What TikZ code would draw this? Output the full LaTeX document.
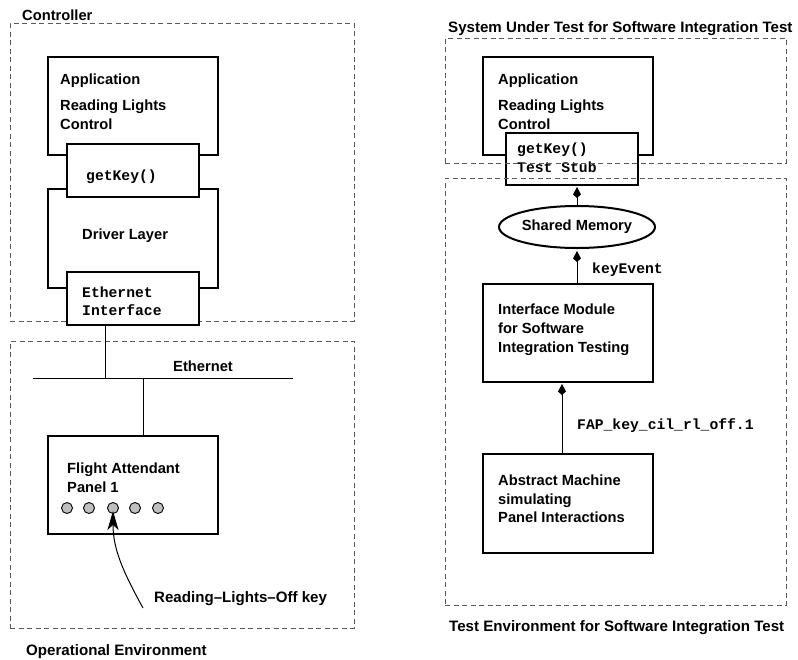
\documentclass[tikz,border=0pt]{standalone}
\usepackage{fontspec}
\setmainfont{Liberation Sans}
\setmonofont{Liberation Mono}
\usetikzlibrary{arrows.meta,shapes.geometric,calc}
\begin{document}
\begin{tikzpicture}[x=1pt,y=-1pt,
  box/.style={draw,line width=2.4pt,inner sep=0pt,outer sep=0pt},
  ibox/.style={draw,line width=1.1pt,fill=white,inner sep=0pt,outer sep=0pt},
  env/.style={draw=black!65,dash pattern=on 5pt off 3.5pt,line width=1pt,inner sep=0pt,outer sep=0pt},
  lbl/.style={anchor=base west,inner sep=0pt,font=\fontsize{14.7}{17}\selectfont\bfseries},
  ttl/.style={anchor=base west,inner sep=0pt,font=\fontsize{15.1}{17}\selectfont\bfseries},
  code/.style={anchor=base west,inner sep=0pt,font=\fontsize{14.7}{17}\selectfont\ttfamily\bfseries},
  key/.style={circle,draw,line width=0.9pt,fill=black!25,minimum size=11pt,inner sep=0pt},
  link/.style={line width=1pt},
  sarrow/.style={line width=1pt,-{Kite[length=11pt,width=8pt,inset=3.5pt]},shorten >=2pt}]
\useasboundingbox (0,0) rectangle (798,659);

% ---------- Left: Controller ----------
\node[box,minimum width=170pt,minimum height=98pt] (appL) at (133,106) {};
\node[box,minimum width=170pt,minimum height=99pt] (drv) at (133,238.5) {};
\node[env,minimum width=344pt,minimum height=298pt] (ctrl) at (182,172) {};
\node[ibox,minimum width=132pt,minimum height=53pt] (gkL) at (133,170.5) {};
\node[ibox,minimum width=132pt,minimum height=53pt] (ethif) at (133,298.5) {};

\node[lbl] (tctrl) at (22,20) {Controller};
\node[lbl] (tappL1) at (60,84) {Application};
\node[lbl] (tappL2) at (60,110) {Reading Lights};
\node[lbl] (tappL3) at (60,129) {Control};
\node[code] (tgkL) at (86,180) {getKey()};
\node[lbl] (tdrv) at (82,239) {Driver Layer};
\node[code] (teth1) at (82,297) {Ethernet};
\node[code] (teth2) at (82,315) {Interface};

% ---------- Left: Operational Environment ----------
\node[env,minimum width=344pt,minimum height=287pt] (openv) at (182,484.5) {};
\coordinate (busL) at (33,378);
\coordinate (busR) at (293,378);
\coordinate (busA) at (105,378);
\coordinate (busB) at (143,378);
\draw[link] (busL) -- (busR);
\draw[link] (ethif.south -| busA) -- (busA);
\node[box,minimum width=170pt,minimum height=98pt] (fap) at (133,485) {};
\draw[link] (busB) -- (fap.north -| busB);
\node[lbl] (tbus) at (173,371) {Ethernet};
\node[lbl] (tfap1) at (67,473) {Flight Attendant};
\node[lbl] (tfap2) at (67,492) {Panel 1};
\node[key] (k1) at (67,508) {};
\node[key] (k2) at (89,508) {};
\node[key] (k3) at (113,508) {};
\node[key] (k4) at (135,508) {};
\node[key] (k5) at (158,508) {};
\coordinate (press) at (143,608);
\draw[line width=1pt,-{Stealth[length=19pt,width=11pt,inset=5pt]}]
  (press) .. controls (122,570) and (113,548) .. ($(k3.south)+(0,-3)$);
\node[ttl] (tkey) at (154,602) {Reading--Lights--Off key};
\node[ttl] (topenv) at (26,655) {Operational Environment};

% ---------- Right: System Under Test ----------
\node[box,minimum width=170pt,minimum height=98pt] (appR) at (568,106) {};
\node[ibox,minimum width=132pt,minimum height=52pt] (stub) at (572,159) {};
\node[ttl] (tsut) at (448,32) {System Under Test for Software Integration Test};
\node[lbl] (tappR1) at (498,84) {Application};
\node[lbl] (tappR2) at (498,110) {Reading Lights};
\node[lbl] (tappR3) at (498,129) {Control};
\node[code] (tstub1) at (517,153) {getKey()};
\node[code] (tstub2) at (517,172) {Test Stub};
\node[env,minimum width=341pt,minimum height=125pt] (sut) at (615.5,100.5) {};

% ---------- Right: Test Environment ----------
\node[env,minimum width=341pt,minimum height=427pt] (tenv) at (615.5,391.5) {};
\node[ellipse,draw,line width=2pt,minimum width=152pt,minimum height=42pt,inner sep=0pt,
      font=\fontsize{14.7}{17}\selectfont\bfseries] (shm) at (577,227) {Shared Memory};
\node[box,minimum width=170pt,minimum height=98pt] (ifm) at (568,333) {};
\node[box,minimum width=170pt,minimum height=99pt] (abs) at (568,503.5) {};
\coordinate (xa) at (577,0);
\coordinate (xb) at (562,0);
\draw[sarrow] (shm.north) -- (stub.south -| xa);
\draw[sarrow] (ifm.north -| xa) -- (shm.south);
\draw[sarrow] (abs.north -| xb) -- (ifm.south -| xb);
\node[code] (tkev) at (592,273) {keyEvent};
\node[lbl] (tifm1) at (498,314) {Interface Module};
\node[lbl] (tifm2) at (498,333) {for Software};
\node[lbl] (tifm3) at (498,352) {Integration Testing};
\node[code] (tfap) at (577,429) {FAP\_key\_cil\_rl\_off.1};
\node[lbl] (tabs1) at (498,485) {Abstract Machine};
\node[lbl] (tabs2) at (498,504) {simulating};
\node[lbl] (tabs3) at (498,522) {Panel Interactions};
\node[ttl] (ttenv) at (449,631) {Test Environment for Software Integration Test};
\end{tikzpicture}
\end{document}
